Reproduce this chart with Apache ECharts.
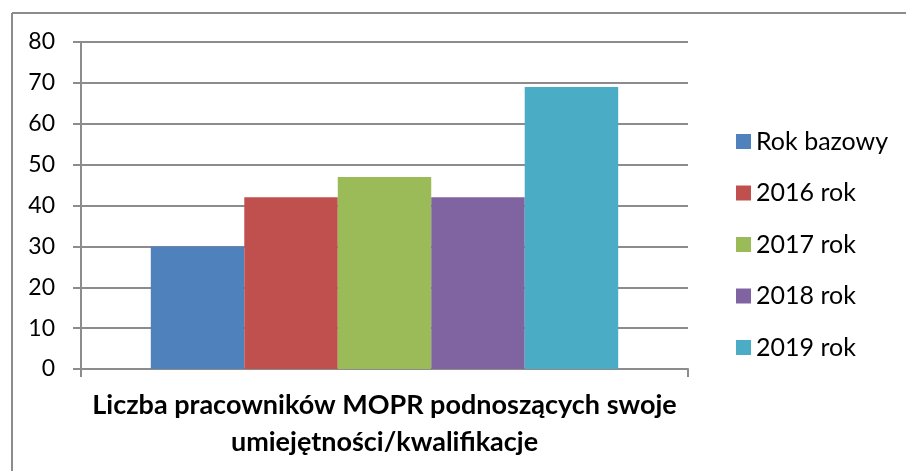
<!DOCTYPE html>
<html>
<head>
<meta charset="utf-8">
<script src="https://cdn.jsdelivr.net/npm/echarts@6/dist/echarts.min.js"></script>
<style>
  html, body { margin: 0; padding: 0; background: #fff; }
  #chart { width: 906px; height: 471px; }
</style>
</head>
<body>
<div id="chart"></div>
<script>
var categories = ["Liczba pracowników MOPR podnoszących swoje\numiejętności/kwalifikacje"];
var seriesNames = ["Rok bazowy", "2016 rok", "2017 rok", "2018 rok", "2019 rok"];
var seriesValues = [[30], [42], [47], [42], [69]];
var colors = ["#4F81BD", "#C0504D", "#9BBB59", "#8064A2", "#4BACC6"];
var yTicks = { min: 0, max: 80, interval: 10 };

var gridColor = "#8c8c8c";
var font = "Lato, 'Open Sans', sans-serif";

var chart = echarts.init(document.getElementById("chart"));

var series = [];
seriesNames.forEach(function (name, i) {
  series.push({
    name: name,
    type: "bar",
    data: seriesValues[i],
    barGap: "0%",
    barCategoryGap: "23%",
    itemStyle: { color: colors[i] }
  });
});

var option = {
  backgroundColor: "#fff",
  animation: false,
  grid: {
    left: 81,
    right: 218,
    top: 42,
    bottom: 102,
    containLabel: false
  },
  // chart frame: only left and top edges are visible in the picture
  graphic: [
    {
      type: "line",
      shape: { x1: 12, y1: 13, x2: 906, y2: 13 },
      style: { stroke: gridColor, lineWidth: 2 }
    },
    {
      type: "line",
      shape: { x1: 12, y1: 13, x2: 12, y2: 471 },
      style: { stroke: gridColor, lineWidth: 2 }
    }
  ],
  legend: {
    orient: "vertical",
    left: 731,
    top: 124,
    icon: "rect",
    itemWidth: 15,
    itemHeight: 15,
    itemGap: 26.5,
    data: seriesNames,
    textStyle: {
      fontFamily: font,
      fontSize: 25,
      color: "#000",
      lineHeight: 25
    }
  },
  xAxis: {
    type: "category",
    data: categories,
    name: categories[0],
    nameLocation: "middle",
    nameGap: 18,
    nameTextStyle: {
      fontFamily: font,
      fontSize: 27,
      fontWeight: "bold",
      color: "#000",
      lineHeight: 37
    },
    axisLine: { lineStyle: { color: gridColor, width: 2 } },
    axisTick: { show: true, length: 8, lineStyle: { color: gridColor, width: 2 } },
    axisLabel: { show: false },
    splitLine: { show: false }
  },
  yAxis: {
    type: "value",
    min: yTicks.min,
    max: yTicks.max,
    interval: yTicks.interval,
    axisLine: { show: true, lineStyle: { color: gridColor, width: 2 } },
    axisTick: { show: true, length: 8, lineStyle: { color: gridColor, width: 2 } },
    axisLabel: {
      margin: 26,
      fontFamily: font,
      fontSize: 23,
      color: "#000"
    },
    splitLine: { show: true, lineStyle: { color: gridColor, width: 2 } }
  },
  series: series
};

chart.setOption(option);
</script>
</body>
</html>
